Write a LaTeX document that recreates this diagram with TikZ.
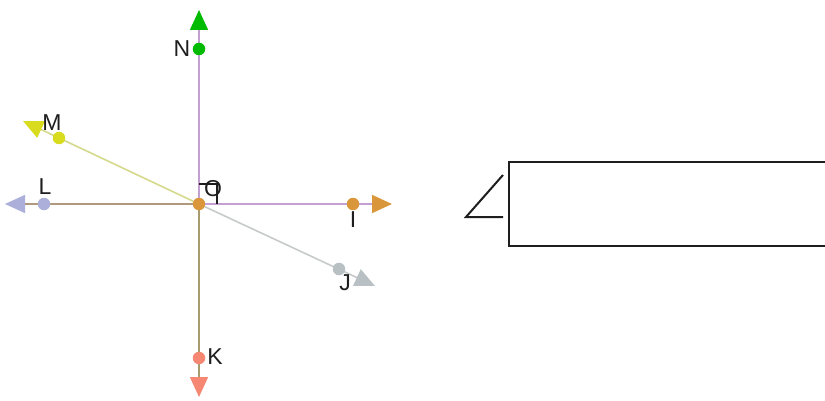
\documentclass[tikz,border=0pt]{standalone}
\usepackage{fontspec}
\setmainfont{Liberation Sans}
\usetikzlibrary{arrows.meta}
\definecolor{ngreen}{RGB}{0,187,0}
\definecolor{iorange}{RGB}{217,150,58}
\definecolor{ksalmon}{RGB}{245,135,115}
\definecolor{llavender}{RGB}{172,175,218}
\definecolor{myellow}{RGB}{217,220,30}
\definecolor{jgray}{RGB}{185,192,196}
\definecolor{purpleaxis}{RGB}{196,160,210}
\definecolor{tanaxis}{RGB}{176,152,124}
\definecolor{oliveaxis}{RGB}{168,155,108}
\definecolor{paleaxis}{RGB}{212,217,140}
\definecolor{grayaxis}{RGB}{198,202,203}
\definecolor{ink}{RGB}{30,30,30}
\tikzstyle{dot} = [circle,inner sep=0,minimum size=12.5pt]
\tikzstyle{lbl} = [text=ink,inner sep=0,font=\fontsize{23pt}{23pt}\selectfont]
\tikzstyle{frame} = [draw=ink,line width=2pt]
\tikzset{axis/.style={line width=1.6pt,-{Triangle[length=20pt,width=18pt,color=#1]}}}

\begin{document}
\begin{tikzpicture}[x=1pt,y=-1pt]
    \useasboundingbox (0,0) rectangle (825,401);
    \clip (0,0) rectangle (825,401);
    \coordinate (tN) at (199,10);
    \coordinate (tI) at (392,204);
    \coordinate (tK) at (199,397);
    \coordinate (tL) at (5,204);
    \coordinate (tM) at (23,121);
    \coordinate (tJ) at (375,286);
    \node [dot,fill=iorange] (vO) at (199,204) {};

    \draw [axis=ngreen,draw=purpleaxis] (vO) -- (tN);
    \draw [axis=iorange,draw=purpleaxis] (vO) -- (tI);
    \draw [axis=ksalmon,draw=oliveaxis] (vO) -- (tK);
    \draw [axis=llavender,draw=tanaxis] (vO) -- (tL);
    \draw [axis=myellow,draw=paleaxis] (vO) -- (tM);
    \draw [axis=jgray,draw=grayaxis] (vO) -- (tJ);

    \node [dot,fill=ngreen] (vN) at (199,49) {};
    \node [dot,fill=iorange] (vI) at (353,204) {};
    \node [dot,fill=ksalmon] (vK) at (199,358) {};
    \node [dot,fill=llavender] (vL) at (44,204) {};
    \node [dot,fill=myellow] (vM) at (59,138) {};
    \node [dot,fill=jgray] (vJ) at (339,269) {};

    % right angle at O
    \draw [ink,line width=1.5pt] (199,184) -- (217,184) -- (217,204);

    \node [lbl] (lN) at (182,49) {N};
    \node [lbl] (lI) at (353,220) {I};
    \node [lbl] (lK) at (215,357) {K};
    \node [lbl] (lL) at (45,187) {L};
    \node [lbl] (lM) at (52,123) {M};
    \node [lbl] (lJ) at (345,283) {J};
    \node [lbl] (lO) at (213,189) {O};

    % box on the right
    \draw [frame] (503,175) -- (466,217) -- (503,217);
    \draw [frame] (509,162) rectangle (835,246);
  \end{tikzpicture}
\end{document}
